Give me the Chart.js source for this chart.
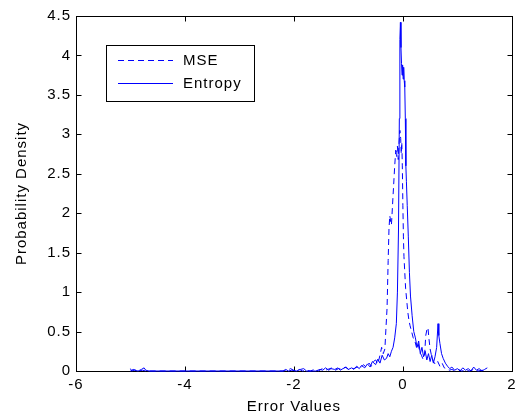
<!DOCTYPE html>
<html>
<head>
<meta charset="utf-8">
<script src="https://cdn.jsdelivr.net/npm/chart.js@4/dist/chart.umd.min.js"></script>
<style>
html,body{margin:0;padding:0;background:#fff;}
#wrap{width:521px;height:416px;}
</style>
</head>
<body>
<div id="wrap"><canvas id="c" width="521" height="416"></canvas></div>
<script>
// ---- data ----
const seriesNames = ["MSE", "Entropy"];
const xTicks = [-6, -4, -2, 0, 2];
const yTicks = [0, 0.5, 1, 1.5, 2, 2.5, 3, 3.5, 4, 4.5];

const entropyX = [
  -5.0, -4.98, -4.93, -4.86, -4.8, -4.75, -4.72, -4.66, -2.2, -2.15,
  -2.1, -2.04, -1.95, -1.88, -1.82, -1.77, -1.6, -1.52, -1.47, -1.42,
  -1.36, -1.32, -1.25, -1.19, -1.15, -1.1, -1.04, -1.0, -0.94, -0.9,
  -0.85, -0.8, -0.76, -0.7, -0.65, -0.6, -0.56, -0.5, -0.46, -0.42,
  -0.38, -0.34, -0.3, -0.27, -0.24, -0.21, -0.18, -0.15, -0.12, -0.1,
  -0.08, -0.065, -0.055, -0.045, -0.035, -0.025, -0.015, -0.005, 0.005, 0.015,
  0.025, 0.035, 0.045, 0.055, 0.065, 0.08, 0.1, 0.12, 0.14, 0.17,
  0.2, 0.23, 0.26, 0.29, 0.32, 0.35, 0.38, 0.41, 0.44, 0.47,
  0.5, 0.53, 0.56, 0.59, 0.62, 0.645, 0.66, 0.68, 0.71, 0.74,
  0.78, 0.82, 0.86, 0.9, 0.95, 1.0, 1.05, 1.1, 1.15, 1.2,
  1.25, 1.3, 1.35, 1.4, 1.45, 1.5, 1.55
];
const entropyY = [
  0.03, 0.0, 0.01, 0.0, 0.02, 0.04, 0.01, 0.0, 0.0, 0.02,
  0.0, 0.01, 0.0, 0.02, 0.03, 0.0, 0.0, 0.02, 0.01, 0.04,
  0.01, 0.03, 0.02, 0.04, 0.01, 0.03, 0.05, 0.02, 0.04, 0.02,
  0.06, 0.03, 0.07, 0.04, 0.09, 0.05, 0.12, 0.08, 0.15, 0.1,
  0.2, 0.14, 0.16, 0.22, 0.18, 0.25, 0.3, 0.42, 0.6, 1.0,
  1.8, 3.2, 4.2, 4.42, 4.1, 3.9, 3.75, 3.88, 3.7, 3.85,
  3.68, 3.6, 3.2, 2.6, 2.4, 2.1, 1.7, 1.25, 0.95, 0.7,
  0.5, 0.42, 0.3, 0.38, 0.22, 0.3, 0.18, 0.25, 0.14, 0.22,
  0.12, 0.2, 0.1, 0.18, 0.3, 0.6, 0.45, 0.35, 0.22, 0.16,
  0.1, 0.06, 0.03, 0.05, 0.01, 0.03, 0.0, 0.04, 0.01, 0.03,
  0.0, 0.05, 0.01, 0.03, 0.0, 0.02, 0.04
];

const mseX = [
  -5.0, -4.95, -4.85, -4.78, -4.72, -4.65, -2.2, -2.12, -2.06, -1.98,
  -1.9, -1.84, -1.78, -1.7, -1.62, -1.55, -1.48, -1.42, -1.38, -1.3,
  -1.24, -1.18, -1.12, -1.06, -1.0, -0.95, -0.9, -0.84, -0.78, -0.72,
  -0.68, -0.62, -0.58, -0.54, -0.5, -0.46, -0.42, -0.39, -0.36, -0.33,
  -0.31, -0.29, -0.27, -0.255, -0.24, -0.225, -0.21, -0.19, -0.17, -0.15,
  -0.13, -0.115, -0.1, -0.085, -0.07, -0.055, -0.04, -0.03, -0.02, -0.01,
  0.0, 0.01, 0.02, 0.035, 0.05, 0.07, 0.09, 0.11, 0.13, 0.16,
  0.19, 0.22, 0.25, 0.28, 0.31, 0.34, 0.37, 0.4, 0.42, 0.44,
  0.46, 0.48, 0.5, 0.53, 0.56, 0.6, 0.64, 0.68, 0.72, 0.76,
  0.8, 0.85, 0.9, 0.96, 1.02, 1.08, 1.15, 1.22, 1.3, 1.38,
  1.46, 1.52
];
const mseY = [
  0.0, 0.02, 0.0, 0.01, 0.0, 0.0, 0.0, 0.01, 0.03, 0.0,
  0.02, 0.0, 0.01, 0.0, 0.02, 0.0, 0.03, 0.01, 0.02, 0.04,
  0.01, 0.03, 0.02, 0.05, 0.02, 0.04, 0.03, 0.05, 0.04, 0.08,
  0.05, 0.1, 0.06, 0.12, 0.14, 0.09, 0.2, 0.3, 0.22, 0.28,
  0.55, 0.8, 1.4, 1.8, 1.97, 1.9, 1.85, 2.1, 2.35, 2.6,
  2.8, 2.72, 2.85, 2.68, 2.9, 3.05, 2.95, 2.75, 2.9, 2.6,
  2.1, 1.7, 1.45, 1.25, 1.05, 0.9, 0.75, 0.65, 0.58, 0.5,
  0.42, 0.38, 0.3, 0.35, 0.24, 0.2, 0.15, 0.22, 0.45, 0.52,
  0.55, 0.4, 0.28, 0.18, 0.12, 0.08, 0.12, 0.06, 0.1, 0.04,
  0.03, 0.01, 0.02, 0.0, 0.02, 0.0, 0.01, 0.0, 0.02, 0.0,
  0.01, 0.0
];

const FONT = "'Liberation Sans', Arial, Helvetica, sans-serif";
const FSIZE = 15;
const BLUE = "#0000ff";

function pts(xs, ys) { return xs.map((x, i) => ({x: x, y: ys[i]})); }

const spacingPlugin = {
  id: 'spacing',
  beforeDraw(chart) { chart.ctx.letterSpacing = '1px'; }
};

const framePlugin = {
  id: 'frame',
  beforeDatasetsDraw(chart) {
    const {ctx, chartArea: a, scales} = chart;
    ctx.save();
    ctx.strokeStyle = '#000';
    ctx.lineWidth = 1;
    const L = Math.round(a.left) + 0.5, R = Math.round(a.right) + 0.5;
    const T = Math.round(a.top) + 0.5, B = Math.round(a.bottom) + 0.5;
    ctx.strokeRect(L, T, R - L, B - T);
    ctx.beginPath();
    const tl = 5;
    xTicks.forEach(v => {
      const px = Math.round(scales.x.getPixelForValue(v)) + 0.5;
      ctx.moveTo(px, B); ctx.lineTo(px, B - tl);
      ctx.moveTo(px, T); ctx.lineTo(px, T + tl);
    });
    yTicks.forEach(v => {
      const py = Math.round(scales.y.getPixelForValue(v)) + 0.5;
      ctx.moveTo(L, py); ctx.lineTo(L + tl, py);
      ctx.moveTo(R, py); ctx.lineTo(R - tl, py);
    });
    ctx.stroke();
    ctx.restore();
  },
  afterDatasetsDraw(chart) {
    const {ctx} = chart;
    ctx.save();
    const bx = 106.5, by = 45.5, bw = 148, bh = 56;
    ctx.fillStyle = '#fff';
    ctx.fillRect(bx, by, bw, bh);
    ctx.strokeStyle = '#000';
    ctx.lineWidth = 1;
    ctx.strokeRect(bx, by, bw, bh);
    const rows = [60.5, 83.5];
    const dashes = [[6, 4], []];
    rows.forEach((y, i) => {
      ctx.beginPath();
      ctx.strokeStyle = BLUE;
      ctx.lineWidth = 1;
      ctx.setLineDash(dashes[i]);
      ctx.moveTo(118, y); ctx.lineTo(173, y);
      ctx.stroke();
      ctx.setLineDash([]);
      ctx.fillStyle = '#000';
      ctx.font = FSIZE + "px " + FONT;
      ctx.textBaseline = 'middle';
      ctx.textAlign = 'left';
      ctx.fillText(seriesNames[i], 183, y);
    });
    ctx.restore();
  }
};

new Chart(document.getElementById('c'), {
  type: 'scatter',
  data: {
    datasets: [
      { label: seriesNames[0], data: pts(mseX, mseY), showLine: true, borderColor: BLUE,
        borderWidth: 1, borderDash: [6, 4], pointRadius: 0, tension: 0, clip: 4 },
      { label: seriesNames[1], data: pts(entropyX, entropyY), showLine: true, borderColor: BLUE,
        borderWidth: 1, pointRadius: 0, tension: 0, clip: 4 }
    ]
  },
  options: {
    responsive: false,
    animation: false,
    events: [],
    layout: { padding: { top: 16, right: 7, left: 0, bottom: 0 } },
    plugins: { legend: { display: false }, tooltip: { enabled: false } },
    scales: {
      x: {
        type: 'linear', min: -6, max: 2,
        afterBuildTicks: s => { s.ticks = xTicks.map(v => ({value: v})); },
        afterFit: s => { s.height = 45; },
        grid: { display: false, drawTicks: false },
        border: { display: false },
        ticks: { color: '#000', font: { family: FONT, size: FSIZE }, padding: 5, maxRotation: 0 },
        title: { display: true, text: 'Error Values', color: '#000',
                 font: { family: FONT, size: FSIZE }, padding: { top: 0, bottom: 0 } }
      },
      y: {
        type: 'linear', min: 0, max: 4.5,
        afterBuildTicks: s => { s.ticks = yTicks.map(v => ({value: v})); },
        afterFit: s => { s.width = 76; },
        grid: { display: false, drawTicks: false },
        border: { display: false },
        ticks: { color: '#000', font: { family: FONT, size: FSIZE }, padding: 5,
                 callback: v => String(v) },
        title: { display: true, text: 'Probability Density', color: '#000',
                 font: { family: FONT, size: FSIZE }, padding: { top: 13, bottom: 0 } }
      }
    }
  },
  plugins: [spacingPlugin, framePlugin]
});
</script>
</body>
</html>
